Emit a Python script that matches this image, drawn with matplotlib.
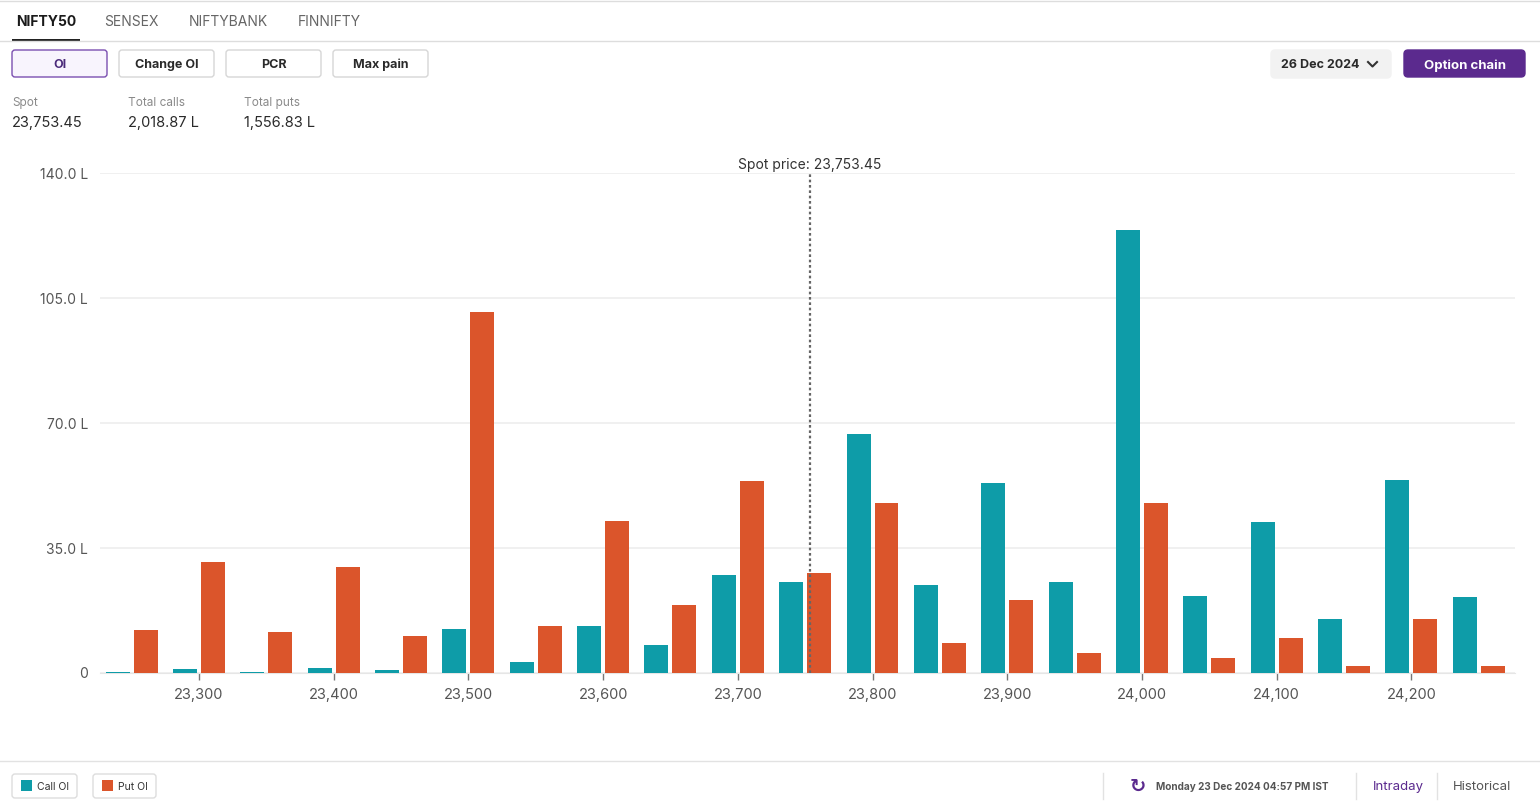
import matplotlib.pyplot as plt
from matplotlib.patches import FancyBboxPatch, Rectangle
from matplotlib.ticker import FuncFormatter

plt.rcParams['font.family'] = ['Inter', 'DejaVu Sans']


# Open interest by strike (values in lakhs)

strikes = [23250, 23300, 23350, 23400, 23450, 23500, 23550, 23600, 23650,
           23700, 23750, 23800, 23850, 23900, 23950, 24000, 24050, 24100,
           24150, 24200, 24250]

call_oi = [0.2, 1.1, 0.3, 1.3, 0.8, 12.3, 3.2, 13.1, 7.9, 27.5, 25.6,
           67.0, 24.6, 53.3, 25.6, 124.1, 21.5, 42.2, 15.0, 54.1, 21.4]

put_oi = [12.1, 31.2, 11.5, 29.8, 10.5, 101.0, 13.1, 42.7, 19.1, 53.8, 28.1,
          47.5, 8.3, 20.5, 5.7, 47.5, 4.1, 9.7, 2.1, 15.1, 1.9]

tick_strikes = [23300, 23400, 23500, 23600, 23700, 23800, 23900, 24000,
                24100, 24200]
y_ticks = [0, 35, 70, 105, 140]

spot = 23753.45
total_calls = "2,018.87 L"
total_puts = "1,556.83 L"

tabs = ["NIFTY50", "SENSEX", "NIFTYBANK", "FINNIFTY"]
buttons = ["OI", "Change OI", "PCR", "Max pain"]

call_color = "#0e9ca8"
put_color = "#db552b"
purple = "#5b2a8e"


fig = plt.figure(figsize=(15.4, 8.01), dpi=100)

# Overlay in pixel coordinates for the page furniture
ui = fig.add_axes([0, 0, 1, 1])
ui.set_xlim(0, 1540)
ui.set_ylim(801, 0)
ui.axis("off")


def rbox(x0, y0, x1, y1, fc, ec, r=4, lw=1.0):
    ui.add_patch(FancyBboxPatch(
        (x0, y0), x1 - x0, y1 - y0,
        boxstyle=f"round,pad=0,rounding_size={r}",
        fc=fc, ec=ec, lw=lw
    ))


# Tabs
ui.plot([0, 1540], [0.5, 0.5], color="#dddddd", lw=1)
ui.plot([0, 1540], [41, 41], color="#dddddd", lw=1)
tab_x = [16, 104, 189, 298]
for i, (name, tx) in enumerate(zip(tabs, tab_x)):
    ui.text(tx, 22.5, name, fontsize=10, va="center", ha="left",
            color="#1a1a1a" if i == 0 else "#666666",
            fontweight="bold" if i == 0 else "normal")
ui.add_patch(Rectangle((12, 39), 68, 2.2, color="#222222", lw=0))

# Buttons
btn_x = [12, 119, 226, 333]
for i, (name, bx) in enumerate(zip(buttons, btn_x)):
    if i == 0:
        rbox(bx, 50, bx + 95, 77, "#f8f4fd", "#7b4fb0", r=3)
        tc = "#4b2a7a"
    else:
        rbox(bx, 50, bx + 95, 77, "white", "#d6d6d6", r=3)
        tc = "#2a2a2a"
    ui.text(bx + 47.5, 65, name, fontsize=9, fontweight="bold",
            ha="center", va="center", color=tc)

# Expiry selector and option chain button
rbox(1271, 50, 1391, 78, "#f2f2f2", "#f2f2f2", r=4)
ui.text(1281, 65.5, "26 Dec 2024", fontsize=9, fontweight="bold",
        ha="left", va="center", color="#2a2a2a")
ui.plot([1368, 1372.5, 1377], [62, 66.5, 62], color="#333333", lw=1.5)
rbox(1404, 50, 1525, 77, purple, purple, r=4)
ui.text(1464.5, 65.5, "Option chain", fontsize=9.5, fontweight="bold",
        ha="center", va="center", color="white")

# Summary numbers
stats = [("Spot", "23,753.45"), ("Total calls", total_calls),
         ("Total puts", total_puts)]
for (label, value), sx in zip(stats, [12, 128, 244]):
    ui.text(sx, 103, label, fontsize=8.5, color="#8a8a8a",
            ha="left", va="center")
    ui.text(sx, 123.5, value, fontsize=10.5, color="#2a2a2a",
            ha="left", va="center")

# Footer
ui.plot([0, 1540], [761, 761], color="#e2e2e2", lw=1)
rbox(12, 774, 77, 798, "white", "#dddddd", r=3)
ui.add_patch(Rectangle((21, 780), 11, 11, color=call_color, lw=0))
ui.text(37, 787, "Call OI", fontsize=7.5, color="#333333", va="center")
rbox(93, 774, 156, 798, "white", "#dddddd", r=3)
ui.add_patch(Rectangle((102, 780), 11, 11, color=put_color, lw=0))
ui.text(118, 787, "Put OI", fontsize=7.5, color="#333333", va="center")

for sx in [1103, 1356, 1437]:
    ui.plot([sx, sx], [773, 799], color="#e2e2e2", lw=1)
ui.text(1138, 786, "\u21bb", fontsize=14, fontweight="bold", color=purple,
        ha="center", va="center", family=["DejaVu Sans"])
ui.text(1156, 787, "Monday 23 Dec 2024 04:57 PM IST", fontsize=7.2,
        fontweight="bold", color="#555555", va="center")
ui.text(1373, 787, "Intraday", fontsize=9.5, color=purple, va="center")
ui.text(1453, 787, "Historical", fontsize=9.5, color="#555555", va="center")


# Main bar chart
ax = fig.add_axes([100 / 1540, 128 / 801, 1415 / 1540, 500 / 801])
ax.set_facecolor("none")

px = 1.347               # pixels per strike point
width = 24 / px
offset = 14 / px

ax.bar([s - offset for s in strikes], call_oi, width=width,
       color=call_color, zorder=3)
ax.bar([s + offset for s in strikes], put_oi, width=width,
       color=put_color, zorder=3)

ax.set_xlim(23300 - 99 / px, 23300 + 1316 / px)
ax.set_ylim(0, 140)

ax.set_yticks(y_ticks)
ax.yaxis.set_major_formatter(
    FuncFormatter(lambda v, _: "0" if v == 0 else f"{v:.1f} L")
)
ax.set_xticks(tick_strikes)
ax.xaxis.set_major_formatter(FuncFormatter(lambda v, _: f"{v:,.0f}"))

ax.tick_params(axis="y", length=0, pad=8.5, labelsize=10,
               labelcolor="#555555")
ax.tick_params(axis="x", length=5, width=1, color="#777777", pad=5.5,
               labelsize=10.5, labelcolor="#555555")

ax.grid(axis="y", color="#eeeeee", linewidth=1.2, zorder=0)
for side in ["top", "right", "left"]:
    ax.spines[side].set_visible(False)
ax.spines["bottom"].set_color("#e6e6e6")

ax.axvline(spot, color="#666666", linestyle=(0, (1.2, 1.2)),
           linewidth=1.6, zorder=4)
ax.annotate(f"Spot price: {spot:,.2f}", xy=(spot, 140),
            xytext=(0, 5.5), textcoords="offset points",
            ha="center", va="center", fontsize=10, color="#333333",
            annotation_clip=False)

fig.savefig("out.png", dpi=100)
